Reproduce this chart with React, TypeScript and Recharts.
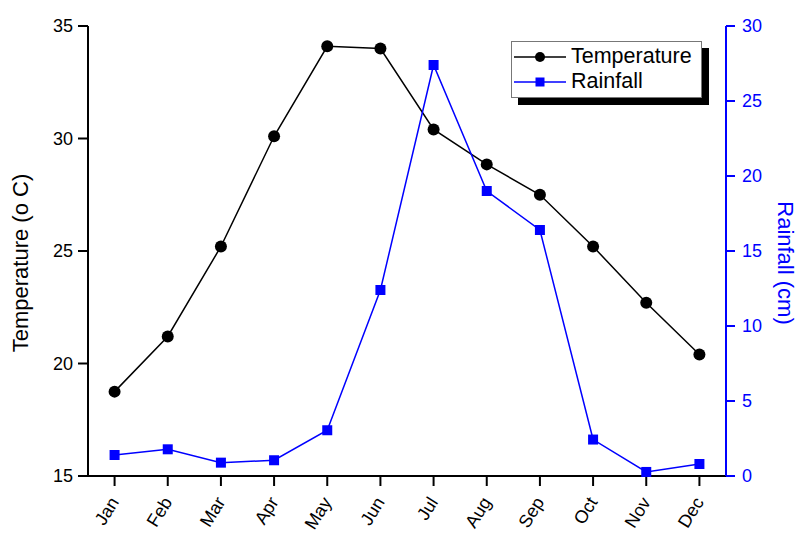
import React from 'react';
import { LineChart, Line, XAxis, YAxis } from 'recharts';

const months = ['Jan', 'Feb', 'Mar', 'Apr', 'May', 'Jun', 'Jul', 'Aug', 'Sep', 'Oct', 'Nov', 'Dec'];
const temperature = [18.75, 21.2, 25.2, 30.1, 34.1, 34.0, 30.4, 28.85, 27.5, 25.2, 22.7, 20.4];
const rainfall = [1.4, 1.78, 0.89, 1.05, 3.05, 12.4, 27.4, 19.0, 16.4, 2.43, 0.27, 0.8];
const tempTicks = [15, 20, 25, 30, 35];
const rainTicks = [0, 5, 10, 15, 20, 25, 30];

const data = months.map((month, i) => ({
  month,
  temperature: temperature[i],
  rainfall: rainfall[i],
}));

const FONT = '"Liberation Sans", Arial, Helvetica, sans-serif';
const BLUE = '#0000FF';

// Month names slanted upward, ending just below their tick
const MonthTick = (props: any) => {
  const { x, y, payload } = props;
  const ax = x + 5;
  const ay = y + 14;
  return (
    <text
      x={ax}
      y={ay}
      transform={`rotate(-58, ${ax}, ${ay})`}
      textAnchor="end"
      fontSize={18}
      fontFamily={FONT}
      fill="#000"
    >
      {payload.value}
    </text>
  );
};

const SquareDot = (props: any) => {
  const { cx, cy, index } = props;
  if (cx == null || cy == null) return <g key={`sq-${index}`} />;
  return <rect key={`sq-${index}`} x={cx - 5} y={cy - 5} width={10} height={10} fill={BLUE} />;
};

const LeftTitle = (props: any) => {
  const { viewBox } = props;
  const cx = 28;
  const cy = viewBox.y + viewBox.height / 2 + 12;
  return (
    <text
      x={cx}
      y={cy}
      transform={`rotate(-90, ${cx}, ${cy})`}
      textAnchor="middle"
      fontSize={22}
      fontFamily={FONT}
      fill="#000"
    >
      Temperature (o C)
    </text>
  );
};

const RightTitle = (props: any) => {
  const { viewBox } = props;
  const cx = viewBox.x + 52;
  const cy = viewBox.y + viewBox.height / 2 + 12;
  return (
    <text
      x={cx}
      y={cy}
      transform={`rotate(90, ${cx}, ${cy})`}
      textAnchor="middle"
      fontSize={22}
      fontFamily={FONT}
      fill={BLUE}
    >
      Rainfall (cm)
    </text>
  );
};

const LegendBox = () => {
  const row = (color: string, label: string, marker: 'circle' | 'square') => (
    <div style={{ display: 'flex', alignItems: 'center', height: 25 }}>
      <svg width={56} height={20} style={{ display: 'block' }}>
        <line x1={2} y1={10} x2={54} y2={10} stroke={color} strokeWidth={1.5} />
        {marker === 'circle' ? (
          <circle cx={28} cy={10} r={5} fill={color} />
        ) : (
          <rect x={23.5} y={5.5} width={9} height={9} fill={color} />
        )}
      </svg>
      <span style={{ fontSize: 21.5, fontFamily: FONT, color: '#000', marginLeft: 3, lineHeight: '25px', whiteSpace: 'nowrap' }}>
        {label}
      </span>
    </div>
  );
  return (
    <div
      style={{
        position: 'absolute',
        left: 511,
        top: 41,
        width: 189,
        height: 53,
        border: '1px solid #777',
        background: '#fff',
        boxShadow: '7px 7px 0 #000',
        boxSizing: 'content-box',
        paddingTop: 2,
      }}
    >
      {row('#000', 'Temperature', 'circle')}
      {row(BLUE, 'Rainfall', 'square')}
    </div>
  );
};

export default function App() {
  return (
    <div style={{ position: 'absolute', left: 0, top: 0, width: 798, height: 534, background: '#fff' }}>
      <LineChart width={798} height={534} data={data} margin={{ top: 26, right: 0, bottom: 0, left: 0 }}>
        <XAxis
          dataKey="month"
          xAxisId="bottom"
          scale="band"
          height={58}
          tickSize={10}
          tickLine={{ stroke: '#000', strokeWidth: 2 }}
          axisLine={{ stroke: '#000', strokeWidth: 2 }}
          tick={<MonthTick />}
          interval={0}
        />
        <XAxis
          dataKey="month"
          xAxisId="top"
          orientation="top"
          scale="band"
          height={0}
          tick={false}
          tickLine={false}
          axisLine={{ stroke: '#000', strokeWidth: 1.5 }}
        />
        <YAxis
          yAxisId="temp"
          orientation="left"
          width={88}
          domain={[15, 35]}
          ticks={tempTicks}
          type="number"
          tickSize={10}
          tickMargin={5}
          tickLine={{ stroke: '#000', strokeWidth: 2 }}
          axisLine={{ stroke: '#000', strokeWidth: 2 }}
          tick={{ fill: '#000', fontSize: 18, fontFamily: FONT }}
          label={<LeftTitle />}
        />
        <YAxis
          yAxisId="rain"
          orientation="right"
          width={72}
          domain={[0, 30]}
          ticks={rainTicks}
          type="number"
          tickSize={9}
          tickMargin={7}
          tickLine={{ stroke: BLUE, strokeWidth: 2 }}
          axisLine={{ stroke: BLUE, strokeWidth: 2 }}
          tick={{ fill: BLUE, fontSize: 18, fontFamily: FONT }}
          label={<RightTitle />}
        />
        <Line
          xAxisId="bottom"
          yAxisId="temp"
          dataKey="temperature"
          stroke="#000"
          strokeWidth={1.5}
          dot={{ r: 6, fill: '#000', stroke: '#000', strokeWidth: 0 }}
          activeDot={false}
          isAnimationActive={false}
        />
        <Line
          xAxisId="bottom"
          yAxisId="rain"
          dataKey="rainfall"
          stroke={BLUE}
          strokeWidth={1.5}
          dot={<SquareDot />}
          activeDot={false}
          isAnimationActive={false}
        />
      </LineChart>
      <LegendBox />
    </div>
  );
}
